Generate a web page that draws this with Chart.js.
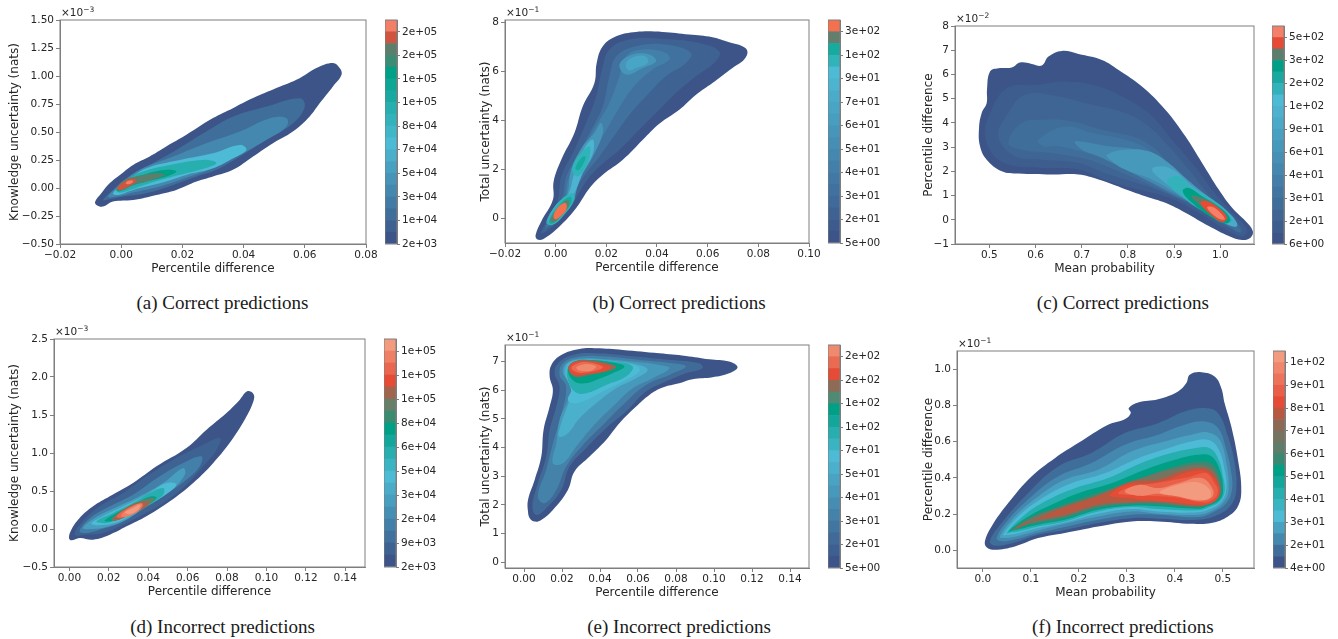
<!DOCTYPE html>
<html>
<head>
<meta charset="utf-8">
<title>Uncertainty density plots</title>
<script src="https://cdn.jsdelivr.net/npm/chart.js@4"></script>
<style>
    html, body { margin: 0; padding: 0; background: #fff; overflow: hidden; }
    canvas { position: absolute; }
    .offset { position: absolute; font: 10.5px "DejaVu Sans"; color: #262626; white-space: nowrap; }
    .offset sup { font-size: 7.5px; line-height: 0; }
    .caption { position: absolute; font: 19px "Liberation Serif"; color: #1a1a1a; white-space: nowrap; transform: translate(-50%, -50%); }
</style>
</head>
<body>
<script>
// Colorbar labels, bottom to top
const barLabelsA = ['2e+03', '1e+04', '3e+04', '5e+04', '7e+04', '8e+04', '1e+05', '1e+05', '2e+05', '2e+05'];
const barLabelsB = ['5e+00', '2e+01', '3e+01', '4e+01', '5e+01', '6e+01', '7e+01', '9e+01', '1e+02', '3e+02'];
const barLabelsC = ['6e+00', '2e+01', '3e+01', '4e+01', '6e+01', '9e+01', '1e+02', '2e+02', '3e+02', '5e+02'];
const barLabelsD = ['2e+03', '9e+03', '2e+04', '3e+04', '5e+04', '6e+04', '8e+04', '1e+05', '1e+05', '1e+05'];
const barLabelsE = ['5e+00', '2e+01', '3e+01', '4e+01', '5e+01', '7e+01', '1e+02', '1e+02', '2e+02', '2e+02'];
const barLabelsF = ['4e+00', '2e+01', '3e+01', '4e+01', '5e+01', '6e+01', '7e+01', '8e+01', '9e+01', '1e+02'];

// Axis ticks
const xTicksA = [-0.02, 0, 0.02, 0.04, 0.06, 0.08];
const yTicksA = [-0.5, -0.25, 0, 0.25, 0.5, 0.75, 1, 1.25, 1.5];
const xTicksB = [-0.02, 0, 0.02, 0.04, 0.06, 0.08, 0.1];
const yTicksB = [0, 2, 4, 6, 8];
const xTicksC = [0.5, 0.6, 0.7, 0.8, 0.9, 1];
const yTicksC = [-1, 0, 1, 2, 3, 4, 5, 6, 7, 8];
const xTicksD = [0, 0.02, 0.04, 0.06, 0.08, 0.1, 0.12, 0.14];
const yTicksD = [-0.5, 0, 0.5, 1, 1.5, 2, 2.5];
const xTicksE = [0, 0.02, 0.04, 0.06, 0.08, 0.1, 0.12, 0.14];
const yTicksE = [0, 1, 2, 3, 4, 5, 6, 7];
const xTicksF = [0, 0.1, 0.2, 0.3, 0.4, 0.5];
const yTicksF = [0, 0.2, 0.4, 0.6, 0.8, 1];

// Density level of each contour below (index into the 19 colorbar bands)
const levelsA = [0, 2, 4, 8, 11, 14, 16, 17, 18];
const levelsB = [0, 2, 4, 6, 9, 9, 11, 13, 15, 16, 15, 16, 17, 18];
const levelsC = [0, 1, 2, 3, 4, 6, 8, 10, 13, 15, 16, 17, 18];
const levelsD = [0, 1, 3, 5, 7, 9, 11, 13, 14, 16, 17, 18];
const levelsE = [0, 2, 4, 6, 8, 9, 11, 13, 15, 16, 17, 18];
const levelsF = [0, 1, 2, 3, 4, 6, 8, 9, 11, 13, 14, 15, 17, 18];

// Contours, flat x,y pairs in axis units
const contoursA = [
    [-.0085,-.12, -.0065,-.047, -.0038,.042, 0,.126, .0039,.206, .0093,.281, .0147,.37, .0213,.475, .03,.624, .0365,.713, .0431,.803, .0507,.892, .0583,.981, .0638,1.071, .0692,1.116, .0714,1.071, .072,1.011, .0692,.907, .0649,.758, .0616,.639, .0561,.504, .0496,.4, .0431,.281, .0365,.162, .03,.102, .0246,.057, .018,-.017, .0115,-.062, .0039,-.107, -.0027,-.121, -.0059,-.166, -.0081,-.151],
    [-.0059,-.107, -.0027,-.017, .0017,.087, .0093,.206, .018,.34, .0278,.504, .0366,.638, .0475,.728, .0584,.802, .06,.728, .0562,.579, .0475,.43, .0388,.281, .0311,.162, .0246,.102, .017,.027, .0082,-.047, .0006,-.077, -.0038,-.101],
    [-.0043,-.077, -.0005,.027, .006,.162, .017,.281, .0278,.4, .0388,.504, .0486,.623, .054,.623, .054,.549, .0475,.43, .0388,.296, .03,.176, .0224,.102, .0126,.013, .0039,-.041, -.0016,-.077],
    [-.0027,-.047, .0017,.057, .0082,.176, .0191,.251, .03,.311, .0388,.385, .0409,.34, .0366,.266, .03,.176, .0213,.117, .0126,.042, .0039,-.017, -.001,-.062],
    [-.0016,-.017, .0017,.072, .0071,.147, .0159,.206, .0268,.251, .0311,.221, .0257,.162, .017,.102, .0093,.042, .0028,-.017, -.0005,-.041],
    [-.0016,-.011, .0022,.072, .0082,.126, .0148,.162, .018,.147, .0148,.102, .0082,.057, .0028,.013, -.0005,-.029],
    [-.0014,-.002, .0011,.072, .005,.102, .0115,.132, .0142,.117, .0082,.057, .0039,.027, .0006,-.017],
    [-.0014,-.005, .0006,.048, .0028,.081, .005,.072, .0039,.036, .0011,-.002, -.0005,-.023],
    [.0015,.042, .0022,.063, .0039,.063, .0033,.042, .0022,.033]
];
const contoursB = [
    [-.0079,-.667, -.0057,-.122, -.0011,.762, -.0008,1.51, .0022,2.394, .0074,3.483, .0107,4.571, .0153,5.524, .0162,6.34, .0186,7.02, .0239,7.428, .0317,7.605, .0422,7.605, .0527,7.496, .0619,7.388, .0685,7.183, .0737,7.02, .0757,6.816, .0744,6.476, .0698,6.136, .0619,5.524, .0554,5.048, .0488,4.435, .0409,3.864, .0344,3.211, .0265,2.394, .0186,1.782, .0134,1.238, .0081,.422, .0015,-.327, -.005,-.844, -.0074,-.844],
    [-.0057,-.599, -.0024,.082, .0009,.762, .0022,1.714, .0074,2.803, .012,3.891, .016,4.979, .0183,6.068, .0212,6.884, .0291,7.292, .0422,7.32, .0567,7.156, .0646,6.816, .0632,6.408, .0554,5.796, .0475,5.115, .0396,4.299, .033,3.619, .0252,2.803, .0173,2.122, .012,1.51, .0068,.626, .0002,-.19],
    [-.0044,-.463, -.0011,.082, .0028,.898, .0042,1.714, .0088,2.599, .0134,3.483, .0186,4.571, .0212,5.796, .0239,6.612, .0317,7.02, .0435,7.088, .0534,6.748, .0514,6.34, .0435,5.796, .0357,4.979, .0291,4.231, .0239,3.483, .0173,2.531, .012,1.85, .0061,.898, .0002,.014],
    [-.0037,-.327, -.0004,.218, .0035,.762, .0048,1.51, .0088,2.394, .0147,3.551, .0212,4.707, .0252,5.796, .0278,6.612, .0344,6.884, .0435,6.748, .0449,6.476, .0383,6.068, .0304,5.32, .0239,4.299, .0186,3.347, .0127,2.394, .0088,1.578, .0055,.762, .0009,.082],
    [-.0037,-.19, -.0004,.49, .0042,.898, .0061,1.986, .0107,2.939, .0153,3.483, .0179,3.891, .0186,3.483, .0147,2.531, .0094,1.578, .0068,.694, .0009,.014],
    [.0252,6.272, .0304,6.68, .037,6.68, .0396,6.408, .0344,6.136, .0278,5.864],
    [.0278,6.34, .0317,6.612, .0357,6.585, .0363,6.34, .0317,6.136, .0288,6.041],
    [-.0031,-.122, .0002,.558, .0048,.966, .0074,1.85, .0114,2.871, .0147,3.211, .0147,2.667, .0107,1.85, .0074,1.034, .0022,.218],
    [.0065,1.986, .0094,2.599, .0134,2.939, .0127,2.258, .0088,1.714],
    [.0078,2.054, .0101,2.463, .0118,2.531, .0107,2.19, .0088,1.959],
    [-.0033,-.19, .0009,.626, .0065,1.034, .0074,.762, .0028,.082, -.0011,-.258],
    [-.0027,-.122, .0009,.49, .0057,.898, .0061,.626, .0015,.014, -.0014,-.218],
    [-.0021,-.054, .0009,.422, .0048,.762, .0052,.517, .0013,.014, -.0008,-.163],
    [-.0008,.15, .0015,.517, .0039,.626, .0042,.354, .0015,.054, -.0003,-.027]
];
const contoursC = [
    [.4776,3.787, .4834,4.404, .4942,4.816, .4949,5.365, .5014,6.119, .5195,6.256, .5484,6.284, .5665,6.49, .5918,6.435, .6135,6.366, .628,6.737, .6569,6.97, .693,6.846, .7437,6.599, .7798,6.188, .8304,5.502, .881,4.541, .9244,3.444, .9606,2.346, .9967,1.249, 1.0256,.494, 1.0545,-.055, 1.0704,-.466, 1.0654,-.741, 1.0473,-.837, 1.0184,-.672, .975,-.261, .9244,.288, .881,.7, .8376,.974, .787,1.317, .7364,1.66, .693,1.866, .6352,1.866, .5629,1.907, .5268,2.003, .4942,2.483, .4798,3.032],
    [.4906,3.581, .5014,4.404, .5376,5.433, .6063,5.57, .6641,5.708, .7364,5.502, .7943,5.022, .8449,4.404, .8955,3.307, .9389,2.346, .9822,1.249, 1.0256,.288, 1.0582,-.398, 1.0473,-.672, 1.0112,-.398, .9533,.288, .8883,.906, .8232,1.249, .7581,1.592, .693,2.072, .6135,2.14, .5412,2.278, .5051,2.758],
    [.5195,3.444, .5412,4.404, .5774,5.159, .6497,5.09, .722,4.747, .7943,4.404, .8449,3.855, .8883,3.032, .9316,2.072, .975,1.043, 1.0256,.151, 1.0473,-.466, 1.0112,-.261, .9533,.425, .8955,.974, .8304,1.454, .7581,1.866, .693,2.346, .6135,2.483, .5557,2.62],
    [.5412,3.169, .5701,3.992, .6207,4.13, .6786,4.061, .7437,3.718, .8087,3.444, .8521,3.032, .8883,2.346, .9389,1.523, .9895,.7, 1.0329,-.123, 1.0437,-.535, 1.0112,-.192, .9606,.494, .9027,.974, .8449,1.454, .7798,2.003, .7147,2.483, .6352,2.758, .5701,2.895],
    [.6063,3.307, .6641,3.855, .722,3.581, .7943,3.307, .8449,2.895, .8955,2.072, .9389,1.249, .9967,.563, 1.0365,-.261, 1.0112,-.151, .9606,.494, .9099,.906, .8521,1.523, .7943,2.14, .722,2.689, .6497,3.032, .615,3.05],
    [.6858,3.238, .7581,3.032, .816,2.895, .8666,2.483, .9099,1.797, .9533,1.111, 1.0039,.425, 1.0343,-.261, 1.0112,-.151, .9606,.494, .9099,.974, .8593,1.454, .7943,2.072, .7364,2.62, .7,2.9],
    [.7545,2.689, .7943,2.895, .8449,2.826, .8883,2.346, .9244,1.729, .9678,1.043, 1.0112,.425, 1.0343,-.233, 1.0039,-.096, .9606,.494, .9099,1.043, .8521,1.66, .7943,2.072, .7617,2.483],
    [.8521,2.072, .8738,2.209, .9027,2.003, .9389,1.386, .9822,.837, 1.0256,.151, 1.0365,-.261, 1.0112,-.151, .9678,.425, .9244,.974, .881,1.523],
    [.8846,1.592, .9099,1.797, .9389,1.317, .9822,.837, 1.0184,.22, 1.0256,-.096, 1.0003,-.055, .9678,.288, .9244,.837],
    [.9186,1.18, .9316,1.317, .9606,.974, 1.0003,.494, 1.022,.014, 1.0112,-.151, .9822,.082, .9389,.7],
    [.9374,.947, .9497,.974, .9822,.7, 1.0112,.151, 1.0003,.014, .9678,.425],
    [.9569,.7, .9714,.768, 1.0003,.425, 1.0148,.082, 1.0039,-.096, .9786,.22],
    [.9714,.494, .9822,.535, 1.0003,.288, 1.0097,.014, .9931,.082]
];
const contoursD = [
    [-.0002,-.118, .001,-.009, .0052,.145, .012,.298, .0205,.43, .0323,.605, .0442,.825, .0594,1.066, .0696,1.307, .0797,1.526, .0865,1.702, .0902,1.811, .0933,1.781, .0936,1.702, .0899,1.482, .0831,1.197, .073,.868, .0628,.605, .051,.364, .0391,.167, .029,.035, .0205,-.075, .012,-.14, .0052,-.118, .001,-.149],
    [.0027,-.075, .0061,.079, .0154,.298, .0273,.474, .0391,.693, .0527,.912, .0662,1.088, .0764,1.197, .0747,1.044, .0679,.825, .0594,.583, .0476,.342, .0357,.167, .0256,.035, .0171,-.053, .0086,-.075],
    [.0052,-.031, .0095,.123, .0188,.276, .0323,.452, .0459,.693, .0577,.868, .067,.956, .0662,.825, .0594,.649, .0476,.43, .0357,.232, .0256,.079, .0154,-.009, .0086,-.053],
    [.0069,.013, .0129,.145, .023,.276, .0357,.43, .0476,.605, .0577,.803, .0586,.715, .051,.496, .0391,.298, .029,.123, .0188,.026, .0112,0],
    [.0112,.07, .0171,.167, .0273,.298, .0391,.452, .0493,.605, .0543,.583, .0476,.43, .0374,.276, .0273,.123, .0188,.057],
    [.0137,.101, .0222,.211, .0323,.342, .0408,.474, .0476,.539, .0476,.452, .0391,.298, .029,.167, .0188,.079],
    [.0179,.11, .0239,.211, .034,.342, .0416,.43, .0442,.408, .0374,.276, .029,.167, .0213,.101],
    [.0213,.123, .0273,.254, .0357,.364, .0433,.408, .0391,.298, .0306,.189, .023,.11],
    [.0218,.132, .029,.276, .0374,.364, .0408,.342, .0349,.232, .0273,.145, .023,.11],
    [.0239,.167, .0298,.276, .0366,.342, .0374,.298, .0323,.211, .0264,.145],
    [.0264,.189, .0315,.289, .0366,.333, .0357,.254, .0306,.175, .0273,.158],
    [.0281,.219, .0323,.276, .0357,.32, .0349,.254, .0306,.197]
];
const contoursE = [
    [.0021,1.768, .0021,2.175, .0056,2.873, .0091,3.687, .0103,4.617, .0135,5.431, .0152,6.013, .0135,6.478, .0144,6.885, .0196,7.234, .0292,7.443, .038,7.466, .052,7.408, .0712,7.292, .0852,7.199, .0975,7.083, .108,7.001, .1124,6.804, .108,6.594, .0992,6.455, .0887,6.385, .0817,6.245, .073,6.094, .066,5.838, .059,5.431, .0502,4.85, .0432,4.268, .0345,3.687, .0266,3.163, .0231,2.524, .0152,1.826, .0091,1.477, .0056,1.419, .003,1.535],
    [.0044,1.942, .0073,2.756, .0117,3.687, .0135,4.617, .017,5.431, .0187,6.129, .0161,6.594, .0179,6.943, .0257,7.234, .038,7.292, .0555,7.199, .073,7.083, .0922,6.943, .094,6.769, .0852,6.594, .0747,6.303, .0642,5.954, .0537,5.257, .0432,4.675, .0327,3.977, .024,3.338, .0196,2.524, .0117,1.884, .0065,1.651],
    [.0073,2.291, .0117,3.222, .0152,4.152, .0196,5.14, .0222,6.129, .0187,6.536, .0205,6.943, .0292,7.176, .0432,7.176, .0607,7.06, .0782,6.943, .0852,6.827, .0765,6.536, .0642,6.187, .052,5.49, .0415,4.792, .031,4.094, .0222,3.338, .017,2.524, .0109,2.059],
    [.0152,3.454, .017,4.152, .0187,4.966, .0231,5.664, .0249,6.245, .0205,6.594, .0222,6.943, .031,7.118, .0432,7.083, .0572,7.001, .0712,6.885, .0765,6.769, .0677,6.42, .0572,6.071, .0467,5.431, .0362,4.734, .0275,4.036, .0205,3.454],
    [.0184,4.385, .0196,4.85, .0231,5.49, .0257,6.071, .0214,6.536, .0231,6.943, .0319,7.083, .045,7.036, .0607,6.885, .0651,6.711, .059,6.42, .0485,6.071, .038,5.548, .0292,5.024, .0231,4.501],
    [.0231,5.664, .0249,5.955, .0222,6.536, .024,6.92, .0319,7.06, .0459,7.001, .0597,6.827, .0607,6.653, .052,6.304, .0415,5.955, .031,5.606, .0257,5.548],
    [.0266,5.955, .0226,6.536, .0249,6.943, .0327,7.06, .0467,7.001, .0572,6.827, .0537,6.478, .0432,6.187, .0327,5.896],
    [.0266,6.303, .0231,6.711, .0266,7.001, .0345,7.06, .0467,6.966, .0529,6.827, .0467,6.594, .038,6.362, .0319,6.245],
    [.0266,6.478, .0233,6.769, .0266,7.001, .0345,7.036, .0441,6.943, .0485,6.804, .0432,6.652, .0345,6.536],
    [.0266,6.536, .0236,6.769, .0266,6.978, .0336,7.025, .0415,6.92, .0459,6.804, .0415,6.652, .0336,6.571],
    [.0284,6.617, .0249,6.769, .0284,6.943, .0336,6.978, .0401,6.873, .0415,6.792, .038,6.687, .0327,6.617],
    [.0292,6.687, .0275,6.792, .0301,6.885, .0345,6.908, .038,6.827, .0362,6.711, .0327,6.664]
];
const contoursF = [
    [.0042,.05, .018,.132, .0527,.261, .1013,.408, .1499,.509, .1985,.592, .2609,.693, .2956,.724, .3081,.757, .304,.785, .3234,.816, .365,.834, .4067,.877, .424,.923, .431,.969, .4553,.983, .483,.959, .4969,.895, .5038,.812, .5177,.684, .5316,.5, .5385,.335, .5316,.243, .5108,.187, .4761,.151, .4344,.147, .365,.16, .3095,.16, .2401,.132, .1707,.096, .1152,.068, .0666,.022, .025,.004, .0076,.018],
    [.0146,.05, .0389,.151, .0874,.298, .1568,.463, .2262,.537, .2956,.647, .365,.702, .4206,.766, .4622,.785, .49,.757, .5108,.629, .5247,.482, .5281,.335, .5177,.252, .49,.197, .4483,.169, .365,.175, .3095,.178, .2401,.151, .1707,.113, .1152,.086, .0666,.044, .025,.026],
    [.0285,.068, .0527,.169, .1013,.298, .1568,.408, .2262,.482, .2956,.583, .365,.638, .4206,.693, .4622,.711, .49,.675, .5073,.555, .5177,.426, .5191,.335, .5073,.261, .483,.215, .4483,.184, .365,.197, .3095,.197, .2401,.169, .1707,.129, .1152,.096, .0666,.06, .0389,.05],
    [.0354,.077, .0666,.187, .1152,.298, .1707,.39, .2401,.445, .3095,.546, .3789,.601, .4344,.638, .4691,.651, .4934,.61, .5073,.482, .5121,.335, .5024,.27, .4795,.222, .4483,.197, .365,.202, .3095,.215, .2401,.187, .1707,.147, .1152,.11, .0666,.076, .0458,.068],
    [.0423,.086, .077,.197, .1291,.298, .1846,.371, .254,.426, .3234,.509, .3858,.564, .4344,.601, .4691,.61, .49,.564, .5038,.445, .5073,.335, .4969,.27, .4761,.232, .4483,.21, .365,.215, .3095,.228, .2401,.202, .1707,.154, .1152,.123, .0666,.09, .0527,.086],
    [.0493,.096, .0874,.197, .136,.279, .1915,.343, .2609,.399, .3303,.482, .3927,.537, .4413,.564, .4726,.564, .49,.509, .5004,.408, .5038,.325, .4934,.27, .4726,.24, .4483,.221, .365,.228, .3095,.239, .2401,.215, .1707,.16, .1152,.132, .0736,.105, .0597,.1],
    [.0527,.105, .0944,.187, .143,.252, .1985,.316, .2679,.371, .3373,.445, .3997,.5, .4483,.528, .4761,.519, .4934,.445, .5004,.335, .4934,.28, .4691,.245, .4483,.23, .365,.243, .3095,.246, .2401,.224, .1707,.169, .1152,.142, .077,.118, .0632,.11],
    [.0583,.114, .1013,.187, .1499,.234, .2054,.289, .2679,.344, .3373,.408, .3997,.463, .4517,.491, .4795,.472, .4934,.408, .4983,.335, .49,.285, .4657,.25, .4483,.237, .365,.252, .3095,.255, .2401,.233, .1707,.178, .1152,.151, .0805,.13, .0666,.118],
    [.0611,.114, .1013,.178, .1568,.235, .2193,.285, .2748,.345, .3442,.41, .4067,.454, .4517,.472, .4795,.445, .4934,.371, .4955,.325, .4865,.285, .4553,.243, .365,.261, .3095,.261, .2401,.243, .1707,.187, .1152,.16, .084,.138, .0701,.12],
    [.0666,.114, .1152,.178, .1707,.239, .2401,.301, .2679,.33, .3095,.38, .365,.39, .4136,.436, .4553,.454, .4795,.426, .4934,.335, .4865,.29, .4553,.246, .365,.27, .3095,.265, .2401,.252, .1707,.197, .1152,.169, .084,.145, .0722,.122],
    [.2644,.307, .2956,.36, .3442,.371, .3858,.39, .4206,.426, .4587,.441, .4795,.408, .4934,.325, .483,.27, .4553,.252, .3997,.265, .3442,.275, .2956,.29, .2714,.295],
    [.2818,.316, .3095,.353, .3581,.371, .3997,.39, .4344,.408, .4657,.426, .483,.371, .49,.325, .4795,.28, .4553,.265, .4067,.29, .3511,.3, .3095,.305],
    [.2956,.325, .3269,.362, .365,.344, .4067,.371, .4553,.399, .4795,.335, .4761,.29, .4483,.274, .4067,.3, .365,.312, .3269,.301],
    [.3685,.32, .4067,.362, .4483,.375, .4726,.335, .4726,.289, .4483,.279, .4067,.298]
];

// Colormap stops per panel: band index, colour
const NAVY = '#3C5488', SKY = '#4DBBD5', TEAL = '#00A087', RED = '#E64B35', SALMON = '#F39B7F';
const colorStopsA = [[0, NAVY], [8, SKY], [14, TEAL], [15, '#3B8C74'], [16, '#5B7F6C'], [17, '#CF5540'], [18, '#F47F69']];
const colorStopsB = [[0, NAVY], [14, SKY], [16, '#15AB9F'], [17, '#627F6D'], [18, '#F4704F']];
const colorStopsC = [[0, NAVY], [12, SKY], [15, TEAL], [16, '#5B7F6C'], [17, RED], [18, '#F4806A']];
const colorStopsD = [[0, NAVY], [7, SKY], [11, TEAL], [12, '#3A8C70'], [13, '#677F69'], [14, '#A0654C'], [15, RED], [18, SALMON]];
const colorStopsE = [[0, NAVY], [9, SKY], [13, TEAL], [14, '#4F8A72'], [15, '#8F6A55'], [16, RED], [18, '#F08A6E']];
const colorStopsF = [[0, NAVY], [4, SKY], [8, TEAL], [9, '#3A8A73'], [10, '#5E7D6A'], [12, '#8D6955'], [13, '#B85840'], [14, RED], [18, SALMON]];

const BAND_COUNT = 19;
const FONT = '"DejaVu Sans"';
const TEXT_COLOR = '#262626';
const SPINE_COLOR = '#7f7f7f';

const panels = [
    { name: 'a', caption: '(a) Correct predictions', capX: 222.5, capY: 303, box: [60, 20, 306, 224], bar: [385, 12], yGap: 47,
      xMin: -0.02, xMax: 0.08, yMin: -0.5, yMax: 1.5, xDec: 2, yDec: 2, exp: '\u22123', xTitle: 'Percentile difference', yTitle: 'Knowledge uncertainty (nats)',
      xTicks: xTicksA, yTicks: yTicksA, levels: levelsA, contours: contoursA, stops: colorStopsA, barLabels: barLabelsA },
    { name: 'b', caption: '(b) Correct predictions', capX: 679, capY: 303, box: [505, 20, 304, 223], bar: [828, 12], yGap: 21,
      xMin: -0.02, xMax: 0.1, yMin: -1, yMax: 8.09, xDec: 2, yDec: 0, exp: '\u22121', xTitle: 'Percentile difference', yTitle: 'Total uncertainty (nats)',
      xTicks: xTicksB, yTicks: yTicksB, levels: levelsB, contours: contoursB, stops: colorStopsB, barLabels: barLabelsB },
    { name: 'c', caption: '(c) Correct predictions', capX: 1122.8, capY: 303, box: [955, 26, 299, 218], bar: [1272, 12], yGap: 28,
      xMin: 0.4256, xMax: 1.073, yMin: -1, yMax: 8, xDec: 1, yDec: 0, exp: '\u22122', xTitle: 'Mean probability', yTitle: 'Percentile difference',
      xTicks: xTicksC, yTicks: yTicksC, levels: levelsC, contours: contoursC, stops: colorStopsC, barLabels: barLabelsC },
    { name: 'd', caption: '(d) Incorrect predictions', capX: 222.5, capY: 627, box: [54, 339, 311, 228], bar: [384, 12], yGap: 41,
      xMin: -0.0078, xMax: 0.15, yMin: -0.5, yMax: 2.5, xDec: 2, yDec: 1, exp: '\u22123', xTitle: 'Percentile difference', yTitle: 'Knowledge uncertainty (nats)',
      xTicks: xTicksD, yTicks: yTicksD, levels: levelsD, contours: contoursD, stops: colorStopsD, barLabels: barLabelsD },
    { name: 'e', caption: '(e) Incorrect predictions', capX: 679, capY: 627, box: [505, 345, 304, 223], bar: [828, 12], yGap: 21,
      xMin: -0.01, xMax: 0.15, yMin: -0.2, yMax: 7.58, xDec: 2, yDec: 0, exp: '\u22121', xTitle: 'Percentile difference', yTitle: 'Total uncertainty (nats)',
      xTicks: xTicksE, yTicks: yTicksE, levels: levelsE, contours: contoursE, stops: colorStopsE, barLabels: barLabelsE },
    { name: 'f', caption: '(f) Incorrect predictions', capX: 1122.8, capY: 627, box: [957, 351, 297, 217], bar: [1273, 12], yGap: 30,
      xMin: -0.054, xMax: 0.565, yMin: -0.097, yMax: 1.1, xDec: 1, yDec: 1, exp: '\u22121', xTitle: 'Mean probability', yTitle: 'Percentile difference',
      xTicks: xTicksF, yTicks: yTicksF, levels: levelsF, contours: contoursF, stops: colorStopsF, barLabels: barLabelsF }
];

// Frame around the plot area, Chart.js only draws the axis sides
const framePlugin = {
    id: 'frame',
    afterDraw(chart) {
        const { ctx, chartArea: a } = chart;
        ctx.save();
        ctx.strokeStyle = SPINE_COLOR;
        ctx.lineWidth = 1;
        ctx.strokeRect(a.left, a.top, a.right - a.left, a.bottom - a.top);
        ctx.restore();
    }
};

function hexToRgb(hex) {
    return [1, 3, 5].map(i => parseInt(hex.substr(i, 2), 16));
}

function bandColor(stops, band) {
    for (let i = 1; i < stops.length; i++) {
        if (band <= stops[i][0]) {
            const t = (band - stops[i - 1][0]) / (stops[i][0] - stops[i - 1][0]);
            const c0 = hexToRgb(stops[i - 1][1]);
            const c1 = hexToRgb(stops[i][1]);
            const rgb = c0.map((c, k) => Math.round(c + (c1[k] - c) * t));
            return `rgb(${rgb.join(',')})`;
        }
    }
    return stops[stops.length - 1][1];
}

function addCanvas(left, top, width, height) {
    const canvas = document.createElement('canvas');
    canvas.width = width;
    canvas.height = height;
    canvas.style.left = left + 'px';
    canvas.style.top = top + 'px';
    canvas.style.width = width + 'px';
    canvas.style.height = height + 'px';
    document.body.appendChild(canvas);
    return canvas.getContext('2d');
}

function addOffsetLabel(left, top, exp) {
    const div = document.createElement('div');
    div.className = 'offset';
    div.style.left = left + 'px';
    div.style.top = top + 'px';
    div.innerHTML = '\u00d710<sup>' + exp + '</sup>';
    document.body.appendChild(div);
}

function addCaption(p) {
    const div = document.createElement('div');
    div.className = 'caption';
    div.style.left = p.capX + 'px';
    div.style.top = p.capY + 'px';
    div.textContent = p.caption;
    document.body.appendChild(div);
}

function tickText(value, decimals) {
    return value.toFixed(decimals).replace('-', '\u2212');
}

// Wraps two points around the ring so the curve has no kink where it closes
function toPoints(flat) {
    const pts = [];
    for (let i = 0; i < flat.length; i += 2) {
        pts.push({ x: flat[i], y: flat[i + 1] });
    }
    return [pts[pts.length - 1], ...pts, pts[0], pts[1]];
}

function axisOptions(min, max, ticks, decimals, title, fitSize, isX) {
    return {
        type: 'linear',
        min: min,
        max: max,
        afterBuildTicks: scale => { scale.ticks = ticks.map(v => ({ value: v })); },
        afterFit: scale => { if (isX) scale.height = fitSize; else scale.width = fitSize; },
        border: { color: SPINE_COLOR },
        grid: { drawOnChartArea: false, color: SPINE_COLOR, tickLength: 4 },
        ticks: {
            color: TEXT_COLOR,
            font: { family: FONT, size: 10.5 },
            padding: isX ? 1 : 2,
            autoSkip: false,
            maxRotation: 0,
            callback: v => tickText(v, decimals)
        },
        title: {
            display: true,
            text: title,
            color: TEXT_COLOR,
            font: { family: FONT, size: 12 },
            padding: 0
        }
    };
}

function drawPanel(p) {
    const [left, top, w, h] = p.box;
    const yWidth = p.yGap + 5;
    const xHeight = 32;
    const padTop = 10, padRight = 25;
    const ctx = addCanvas(left - yWidth, top - padTop, yWidth + w + padRight, padTop + h + xHeight);

    // Chart.js paints the first dataset last, so the highest level goes first
    const datasets = p.contours.map((flat, i) => ({
        data: toPoints(flat),
        showLine: true,
        fill: 'shape',
        backgroundColor: bandColor(p.stops, p.levels[i]),
        borderWidth: 0,
        pointRadius: 0,
        tension: 0.4
    })).reverse();

    new Chart(ctx, {
        type: 'scatter',
        data: { datasets: datasets },
        options: {
            responsive: false,
            animation: false,
            layout: { padding: { top: padTop, right: padRight, left: 0, bottom: 0 } },
            plugins: { legend: { display: false }, tooltip: { enabled: false } },
            scales: {
                x: axisOptions(p.xMin, p.xMax, p.xTicks, p.xDec, p.xTitle, xHeight, true),
                y: axisOptions(p.yMin, p.yMax, p.yTicks, p.yDec, p.yTitle, yWidth, false)
            }
        },
        plugins: [framePlugin]
    });

    addOffsetLabel(left + 1, top - 14, p.exp);
    addCaption(p);
    drawColorbar(p);
}

function drawColorbar(p) {
    const [, top, , h] = p.box;
    const [barLeft, barWidth] = p.bar;
    const padV = 10, labelWidth = 50;
    const ctx = addCanvas(barLeft, top - padV, barWidth + labelWidth, h + 2 * padV);

    const datasets = [];
    for (let band = 0; band < BAND_COUNT; band++) {
        datasets.push({
            data: [1],
            backgroundColor: bandColor(p.stops, band),
            borderWidth: 0,
            barPercentage: 1,
            categoryPercentage: 1,
            stack: 'levels'
        });
    }

    new Chart(ctx, {
        type: 'bar',
        data: { labels: ['density'], datasets: datasets },
        options: {
            responsive: false,
            animation: false,
            layout: { padding: { top: padV, bottom: padV, left: 0, right: 0 } },
            plugins: { legend: { display: false }, tooltip: { enabled: false } },
            scales: {
                x: { display: false, stacked: true },
                y: {
                    position: 'right',
                    stacked: true,
                    min: 0,
                    max: BAND_COUNT,
                    afterBuildTicks: scale => { scale.ticks = p.barLabels.map((_, i) => ({ value: i * 2 })); },
                    afterFit: scale => { scale.width = labelWidth; },
                    border: { color: SPINE_COLOR },
                    grid: { drawOnChartArea: false, color: SPINE_COLOR, tickLength: 3 },
                    ticks: {
                        color: TEXT_COLOR,
                        font: { family: FONT, size: 10.5 },
                        padding: 2,
                        autoSkip: false,
                        callback: v => p.barLabels[v / 2]
                    }
                }
            }
        },
        plugins: [framePlugin]
    });
}

panels.forEach(drawPanel);
</script>
</body>
</html>
